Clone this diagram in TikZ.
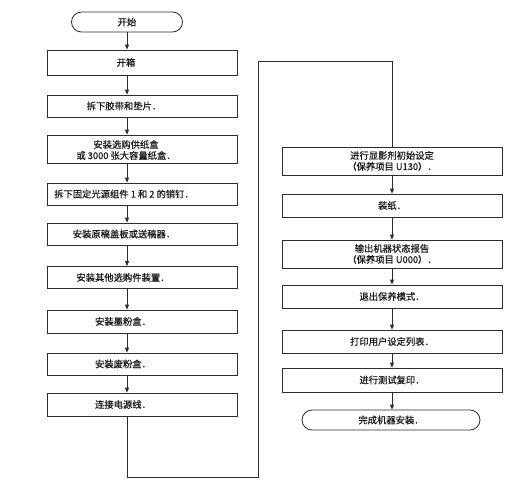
\documentclass[tikz,border=0pt]{standalone}
\usepackage{fontspec}
\newfontfamily\cjk[BoldFont=Noto Sans CJK SC, BoldFeatures={FakeBold=0.6}]{Noto Sans CJK SC}
\usetikzlibrary{arrows.meta}
\definecolor{ln}{RGB}{45,45,45}
\definecolor{tx}{RGB}{25,25,25}
\tikzset{
  lbox/.style={draw=ln, line width=0.8pt, minimum width=190pt, inner sep=0pt},
  rbox/.style={draw=ln, line width=0.8pt, minimum width=220pt, inner sep=0pt},
  term/.style={draw=ln, line width=0.8pt, rounded corners=10pt, minimum height=20pt, inner sep=0pt},
  lab/.style={font=\cjk\bfseries\fontsize{9.3}{11}\selectfont, text=tx, align=center, inner sep=0pt},
  flow/.style={draw=ln, line width=0.8pt, -{Triangle[length=5pt,width=4pt]}},
  wire/.style={draw=ln, line width=0.8pt}
}
\begin{document}
\begin{tikzpicture}[x=1pt,y=-1pt]
\useasboundingbox (0,0) rectangle (514,490);
% left column
\node[term, minimum width=111pt] (s) at (127,22) {};
\node[lab] (st) at (127,22) {开始};
\node[lbox, minimum height=25pt] (b1) at (142,62.5) {};
\node[lab] (b1t) at (126,62.5) {开箱};
\node[lbox, minimum height=22pt] (b2) at (142,106) {};
\node[lab] (b2t) at (124,106) {拆下胶带和垫片．};
\node[lbox, minimum height=28pt] (b3) at (142,149) {};
\node[lab] (b3t) at (126,150) {安装选购供纸盒\\或 3000 张大容量纸盒．};
\node[lbox, minimum height=22pt] (b4) at (142,194) {};
\node[lab] (b4t) at (124,194) {拆下固定光源组件 1 和 2 的销钉．};
\node[lbox, minimum height=22pt] (b5) at (142,234) {};
\node[lab] (b5t) at (124,234) {安装原稿盖板或送稿器．};
\node[lbox, minimum height=22pt] (b6) at (142,277.5) {};
\node[lab] (b6t) at (123,277.5) {安装其他选购件装置．};
\node[lbox, minimum height=23pt] (b7) at (142,321.5) {};
\node[lab] (b7t) at (123,321.5) {安装墨粉盒．};
\node[lbox, minimum height=22pt] (b8) at (142,364) {};
\node[lab] (b8t) at (123,364) {安装废粉盒．};
\node[lbox, minimum height=23pt] (b9) at (142,404.5) {};
\node[lab] (b9t) at (123,404.5) {连接电源线．};
% right column
\node[rbox, minimum height=28pt] (r1) at (392,161) {};
\node[lab] (r1t) at (392,161) {进行显影剂初始设定\\（保养项目 U130）．};
\node[rbox, minimum height=23pt] (r2) at (392,205.5) {};
\node[lab] (r2t) at (392,205.5) {装纸．};
\node[rbox, minimum height=28pt] (r3) at (392,254) {};
\node[lab] (r3t) at (392,254) {输出机器状态报告\\（保养项目 U000）．};
\node[rbox, minimum height=23pt] (r4) at (392,296.5) {};
\node[lab] (r4t) at (392,296.5) {退出保养模式．};
\node[rbox, minimum height=23pt] (r5) at (392,341.5) {};
\node[lab] (r5t) at (392,341.5) {打印用户设定列表．};
\node[rbox, minimum height=24pt] (r6) at (392,380) {};
\node[lab] (r6t) at (392,380) {进行测试复印．};
\node[term, minimum width=178pt] (e) at (391,420) {};
\node[lab] (et) at (391,420) {完成机器安装．};
% arrows left
\draw[flow] (s.south) -- (b1.north -| s);
\draw[flow] (b1.south -| s) -- (b2.north -| s);
\draw[flow] (b2.south -| s) -- (b3.north -| s);
\draw[flow] (b3.south -| s) -- (b4.north -| s);
\draw[flow] (b4.south -| s) -- (b5.north -| s);
\draw[flow] (b5.south -| s) -- (b6.north -| s);
\draw[flow] (b6.south -| s) -- (b7.north -| s);
\draw[flow] (b7.south -| s) -- (b8.north -| s);
\draw[flow] (b8.south -| s) -- (b9.north -| s);
% connector to right column
\coordinate (ca) at (127,477);
\coordinate (cb) at (258,477);
\coordinate (cc) at (258,61);
\coordinate (cd) at (392,61);
\draw[wire] (b9.south -| s) -- (ca) -- (cb) -- (cc) -- (cd) -- (r1.north);
% arrows right
\draw[flow] (r1.south) -- (r2.north);
\draw[flow] (r2.south) -- (r3.north);
\draw[flow] (r3.south) -- (r4.north);
\draw[flow] (r4.south) -- (r5.north);
\draw[flow] (r5.south) -- (r6.north);
\draw[flow] (r6.south) -- (r6.south |- e.north);
\end{tikzpicture}
\end{document}
